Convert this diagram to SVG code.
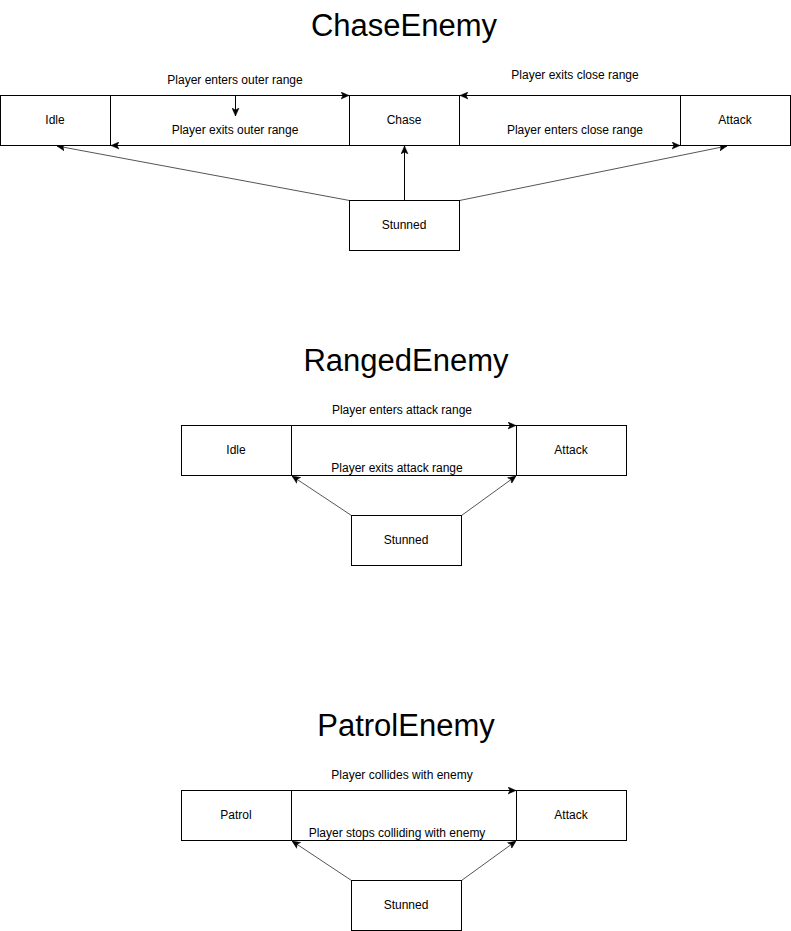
<svg xmlns="http://www.w3.org/2000/svg" width="791" height="931" viewBox="0 0 791 931">
<style>
.n{fill:#fff;stroke:#000;stroke-width:1}
.t{font-family:"Liberation Sans",Arial,sans-serif;font-size:12px;fill:#000;text-anchor:middle}
.h{font-family:"Liberation Sans",Arial,sans-serif;font-size:31px;fill:#000;text-anchor:middle}
.e{fill:none;stroke:#000;stroke-width:1}
.d{fill:none;stroke:#555;stroke-width:1}
</style>
<defs>
<marker id="a" viewBox="0 0 8 8" refX="8" refY="4" markerWidth="8" markerHeight="8" markerUnits="userSpaceOnUse" orient="auto">
<path d="M0,0.5 L8,4 L0,7.5 L2,4 z" fill="#000" stroke="#000" stroke-width="0.5"/>
</marker>
</defs>
<rect width="791" height="931" fill="#fff"/>
<text class="h" x="404" y="36">ChaseEnemy</text>
<text class="h" x="406" y="371">RangedEnemy</text>
<text class="h" x="406" y="736">PatrolEnemy</text>

<g id="connectors">
<path class="e" d="M110.5,95.5 H349" marker-end="url(#a)"/>
<path class="e" d="M235.5,95.5 V116" marker-end="url(#a)"/>
<path class="e" d="M349.5,145.5 H111" marker-end="url(#a)"/>
<path class="e" d="M680.5,95.5 H460" marker-end="url(#a)"/>
<path class="e" d="M459.5,145.5 H680" marker-end="url(#a)"/>
<path class="d" d="M349.5,200.5 L57,146" marker-end="url(#a)"/>
<path class="e" d="M404.5,200.5 V146" marker-end="url(#a)"/>
<path class="d" d="M459.5,200.5 L727,146" marker-end="url(#a)"/>

<path class="e" d="M291.5,425.5 H516" marker-end="url(#a)"/>
<path class="e" d="M516.5,475.5 H292"/>
<path class="d" d="M351.5,515.5 L292,476" marker-end="url(#a)"/>
<path class="d" d="M461.5,515.5 L516,476" marker-end="url(#a)"/>

<path class="e" d="M291.5,790.5 H516" marker-end="url(#a)"/>
<path class="e" d="M516.5,840.5 H292"/>
<path class="d" d="M351.5,880.5 L292,841" marker-end="url(#a)"/>
<path class="d" d="M461.5,880.5 L516,841" marker-end="url(#a)"/>
</g>

<g id="labels">
<text class="t" x="235" y="84">Player enters outer range</text>
<text class="t" x="235" y="134">Player exits outer range</text>
<text class="t" x="575" y="79">Player exits close range</text>
<text class="t" x="575" y="134">Player enters close range</text>
<text class="t" x="402" y="414">Player enters attack range</text>
<text class="t" x="397" y="472">Player exits attack range</text>
<text class="t" x="402" y="779">Player collides with enemy</text>
<text class="t" x="397" y="837">Player stops colliding with enemy</text>
</g>

<g id="chase-idle"><rect class="n" x="0.5" y="95.5" width="110" height="50"/><text class="t" x="55" y="124">Idle</text></g>
<g id="chase-chase"><rect class="n" x="349.5" y="95.5" width="110" height="50"/><text class="t" x="404" y="124">Chase</text></g>
<g id="chase-attack"><rect class="n" x="680.5" y="95.5" width="110" height="50"/><text class="t" x="735" y="124">Attack</text></g>
<g id="chase-stunned"><rect class="n" x="349.5" y="200.5" width="110" height="50"/><text class="t" x="404" y="229">Stunned</text></g>

<g id="ranged-idle"><rect class="n" x="181.5" y="425.5" width="110" height="50"/><text class="t" x="236" y="454">Idle</text></g>
<g id="ranged-attack"><rect class="n" x="516.5" y="425.5" width="110" height="50"/><text class="t" x="571" y="454">Attack</text></g>
<g id="ranged-stunned"><rect class="n" x="351.5" y="515.5" width="110" height="50"/><text class="t" x="406" y="544">Stunned</text></g>

<g id="patrol-patrol"><rect class="n" x="181.5" y="790.5" width="110" height="50"/><text class="t" x="236" y="819">Patrol</text></g>
<g id="patrol-attack"><rect class="n" x="516.5" y="790.5" width="110" height="50"/><text class="t" x="571" y="819">Attack</text></g>
<g id="patrol-stunned"><rect class="n" x="351.5" y="880.5" width="110" height="50"/><text class="t" x="406" y="909">Stunned</text></g>
</svg>
